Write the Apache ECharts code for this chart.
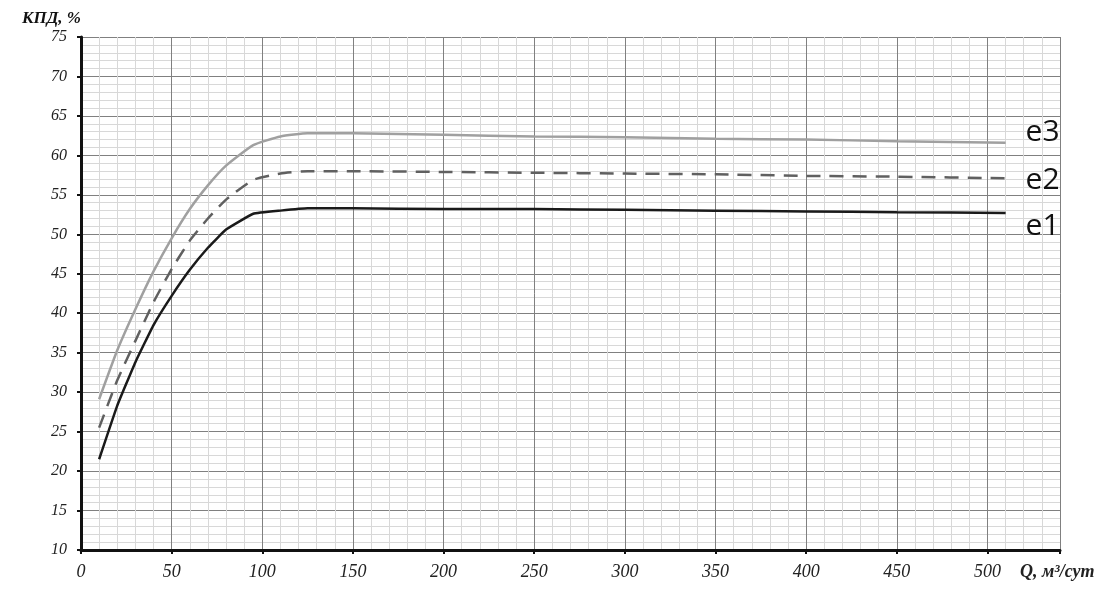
<!DOCTYPE html>
<html>
<head>
<meta charset="utf-8">
<script src="https://cdn.jsdelivr.net/npm/echarts@6/dist/echarts.min.js"></script>
<style>
  html, body { margin: 0; padding: 0; background: #fff; }
  #chart { width: 1110px; height: 590px; }
</style>
</head>
<body>
<div id="chart"></div>
<script>
// подача, м3/сут
const qValues = [10, 20, 30, 40, 50, 60, 70, 80, 95, 110, 125, 150, 200, 250, 300, 350, 400, 450, 510]
// КПД, %
const e1 = [21.5, 28.3, 33.8, 38.5, 42.2, 45.5, 48.3, 50.6, 52.6, 53.0, 53.3, 53.3, 53.2, 53.2, 53.1, 53.0, 52.9, 52.8, 52.7]
const e2 = [25.5, 31.5, 36.5, 41.4, 45.6, 49.2, 52.0, 54.4, 56.9, 57.7, 58.0, 58.0, 57.9, 57.8, 57.7, 57.6, 57.4, 57.3, 57.1]
const e3 = [29.1, 35.3, 40.5, 45.3, 49.5, 53.2, 56.2, 58.7, 61.3, 62.4, 62.8, 62.8, 62.6, 62.4, 62.3, 62.1, 62.0, 61.8, 61.6]
const seriesNames = ['e3', 'e2', 'e1']

const chart = echarts.init(document.getElementById('chart'))

const pairs = arr => qValues.map((q, i) => [q, arr[i]])
const labelFont = { fontFamily: 'Liberation Serif', fontStyle: 'italic', fontSize: 16, color: '#222' }

const option = {
  animation: false,
  backgroundColor: '#fff',
  grid: { left: 81, right: 50, top: 37, bottom: 40 },
  xAxis: [
    // мелкая сетка
    {
      type: 'value', position: 'bottom', min: 0, max: 540, interval: 10,
      axisLine: { show: false }, axisTick: { show: false }, axisLabel: { show: false },
      splitLine: { lineStyle: { color: '#d8d8d8', width: 1 } }
    },
    {
      type: 'value', position: 'bottom', min: 0, max: 540, interval: 50,
      name: 'Q, м³/сут',
      nameLocation: 'end',
      nameGap: -40,
      nameTextStyle: Object.assign({}, labelFont, { fontSize: 18, fontWeight: 'bold', align: 'left', verticalAlign: 'top', padding: [13, 0, 0, 0] }),
      axisLine: { lineStyle: { color: '#111', width: 3 } },
      axisTick: { length: 4, lineStyle: { color: '#111', width: 2 } },
      axisLabel: Object.assign({}, labelFont, {
        fontSize: 18,
        margin: 13,
        formatter: v => (v % 50 === 0 ? String(v) : '')
      }),
      splitLine: { lineStyle: { color: '#808080', width: 1 } }
    }
  ],
  yAxis: [
    {
      type: 'value', position: 'left', min: 10, max: 75, interval: 1,
      axisLine: { show: false }, axisTick: { show: false }, axisLabel: { show: false },
      splitLine: { lineStyle: { color: '#d8d8d8', width: 1 } }
    },
    {
      type: 'value', position: 'left', min: 10, max: 75, interval: 5,
      name: 'КПД, %',
      nameLocation: 'end',
      nameGap: 18,
      nameTextStyle: Object.assign({}, labelFont, { fontSize: 17, fontWeight: 'bold', color: '#111', align: 'right', verticalAlign: 'middle' }),
      axisLine: { show: true, lineStyle: { color: '#111', width: 3 } },
      axisTick: { show: true, length: 4, lineStyle: { color: '#111', width: 2 } },
      axisLabel: Object.assign({}, labelFont, { margin: 14 }),
      splitLine: { lineStyle: { color: '#808080', width: 1 } }
    }
  ],
  series: [
    {
      name: seriesNames[0], type: 'line', xAxisIndex: 1, yAxisIndex: 1,
      data: pairs(e3), symbol: 'none', smooth: 0.15,
      lineStyle: { color: '#a0a0a0', width: 2.5 },
      endLabel: { show: true, formatter: '{a}', distance: 20, offset: [0, -10],
        fontFamily: 'Open Sans', fontSize: 30, color: '#111' }
    },
    {
      name: seriesNames[1], type: 'line', xAxisIndex: 1, yAxisIndex: 1,
      data: pairs(e2), symbol: 'none', smooth: 0.15,
      lineStyle: { color: '#606060', width: 2.5, type: [14, 9] },
      endLabel: { show: true, formatter: '{a}', distance: 20, offset: [0, 2],
        fontFamily: 'Open Sans', fontSize: 30, color: '#111' }
    },
    {
      name: seriesNames[2], type: 'line', xAxisIndex: 1, yAxisIndex: 1,
      data: pairs(e1), symbol: 'none', smooth: 0.1,
      lineStyle: { color: '#1a1a1a', width: 2.5 },
      endLabel: { show: true, formatter: '{a}', distance: 20, offset: [0, 13],
        fontFamily: 'Open Sans', fontSize: 30, color: '#111' }
    }
  ]
}

chart.setOption(option)
</script>
</body>
</html>
